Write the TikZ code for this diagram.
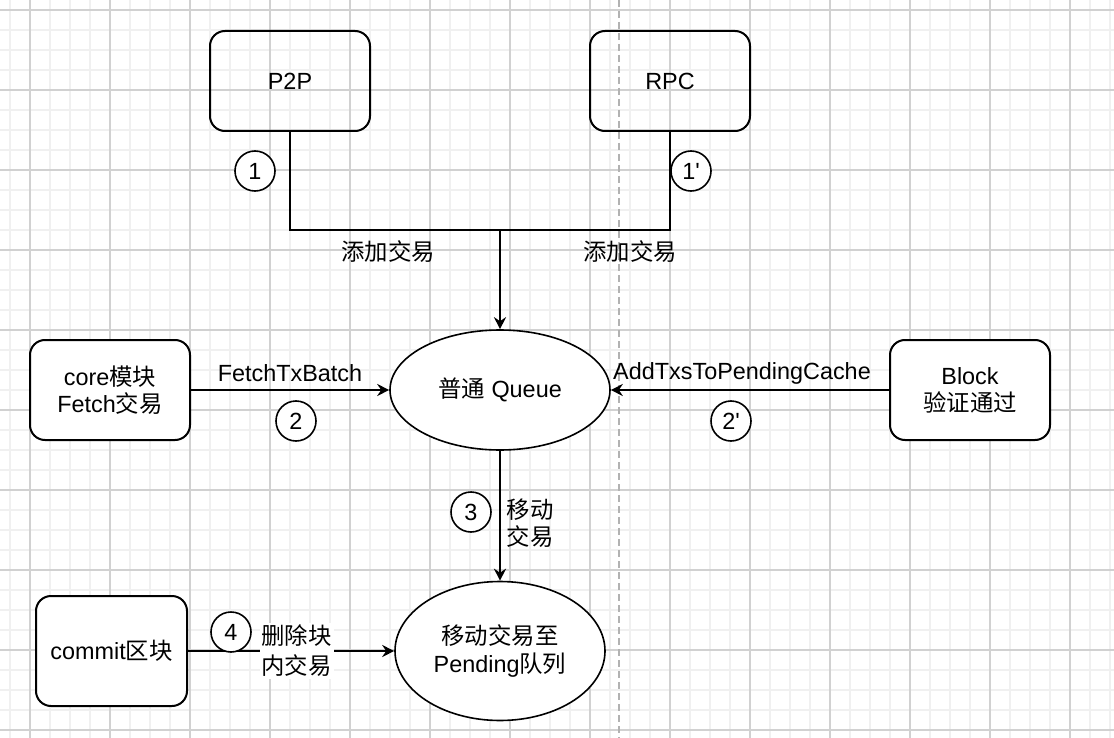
\documentclass[tikz,border=0pt]{standalone}
\usepackage{fontspec}
\setmainfont{Liberation Sans}
\newfontfamily\plainf{Liberation Sans}[Ligatures=ResetAll]
\newfontfamily\cjk{Noto Sans CJK SC}
\usetikzlibrary{shapes.geometric,arrows.meta}
\begin{document}
\begin{tikzpicture}[x=0.5pt,y=-0.5pt,
  every node/.style={font=\fontsize{11.7}{13.6}\selectfont},
  box/.style={draw,line width=1pt,rounded corners=7.5pt,minimum width=80pt,minimum height=50pt,align=center,inner sep=0pt},
  oval/.style={draw,ellipse,line width=0.8pt,align=center,inner sep=0pt},
  num/.style={draw,circle,line width=0.8pt,minimum size=20pt,inner sep=0pt},
  lbl/.style={align=center,inner sep=1pt},
  lblc/.style={align=center,inner sep=1pt,font=\cjk\fontsize{11.7}{13.6}\selectfont},
  wire/.style={line width=1pt},
  arr/.style={line width=1pt,-{Stealth[length=6pt,width=6pt,inset=2pt]}},
  minor/.style={draw=black!6,line width=0.6pt},
  major/.style={draw=black!18,line width=0.6pt},
  divider/.style={draw=black!30,line width=1pt,dash pattern=on 3.5pt off 2pt}]
\path[use as bounding box,fill=white] (0,0) rectangle (1114,738);
% grid
\foreach \x in {10,30,...,1110} \draw[minor] (\x,0) -- (\x,738);
\foreach \y in {10,30,...,730} \draw[minor] (0,\y) -- (1114,\y);
\foreach \x in {30,110,...,1070} \draw[major] (\x,0) -- (\x,738);
\foreach \y in {10,90,...,730} \draw[major] (0,\y) -- (1114,\y);
\draw[divider] (619,0) -- (619,738);
% nodes
\node[box] (p2p) at (290,81) {P2P};
\node[box] (rpc) at (670,81) {RPC};
\node[oval,fill=white,minimum width=110pt,minimum height=60pt] (queue) at (500,390) {{\cjk 普通} Queue};
\node[box,fill=white] (core) at (110,390) {core{\cjk 模块}\\Fetch{\cjk 交易}};
\node[box,fill=white] (block) at (970,390) {Block\\{\cjk 验证通过}};
\node[oval,fill=white,minimum width=105pt,minimum height=69.5pt] (pending) at (500,651) {{\cjk 移动交易至}\\Pending{\cjk 队列}};
\node[box,fill=white,minimum width=75.5pt,minimum height=55pt] (commit) at (111.5,651) {commit{\cjk 区块}};
% connectors
\coordinate (j) at (500,230);
\draw[wire] (p2p.south) |- (j);
\draw[wire] (rpc.south) |- (j);
\draw[arr] (j) -- (queue.north);
\draw[arr] (core.east) -- (queue.west);
\draw[arr] (block.west) -- (queue.east);
\draw[arr] (queue.south) -- (pending.north);
\draw[arr] (commit.east) -- node[lblc,fill=white,pos=0.527,font=\cjk\fontsize{11.7}{15}\selectfont] (del) {删除块\\内交易} (pending.west);
% step numbers
\node[num,fill=white] (n1) at (255,171) {1};
\node[num,fill=white] (n1p) at (691,171) {\plainf 1'};
\node[num,fill=white] (n2) at (296,421) {2};
\node[num,fill=white] (n2p) at (731,421) {\plainf 2'};
\node[num,fill=white] (n3) at (471,512) {3};
\node[num,fill=white] (n4) at (231,632) {4};
% labels
\node[lblc] (l1) at (388,252) {添加交易};
\node[lblc] (l1p) at (630,252) {添加交易};
\node[lbl] (l2) at (290,373) {FetchTxBatch};
\node[lbl] (l2p) at (742,373) {AddTxsToPendingCache};
\node[lblc] (l3) at (530,523) {移动\\交易};
\end{tikzpicture}
\end{document}
